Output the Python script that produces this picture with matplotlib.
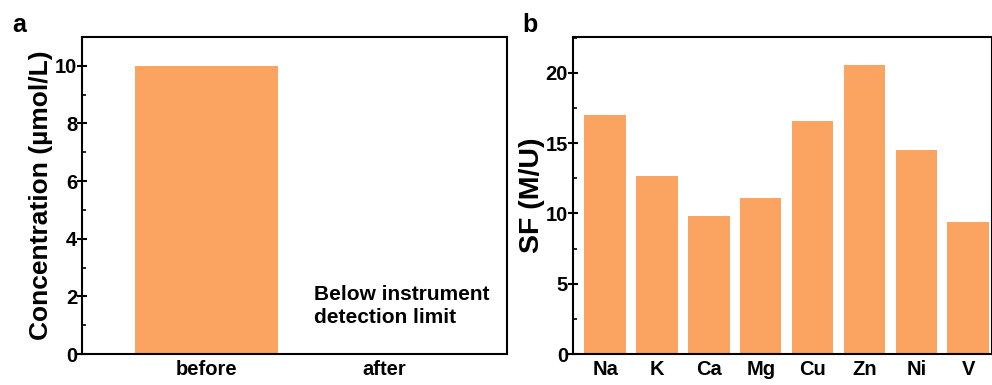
import matplotlib.pyplot as plt
from matplotlib.ticker import MultipleLocator

plt.rcParams['font.family'] = ['Liberation Sans', 'DejaVu Sans']
plt.rcParams['font.weight'] = 'bold'

# panel a data
stages = ['before', 'after']
concentration = [10.0, 0.0]

# panel b data
metals = ['Na', 'K', 'Ca', 'Mg', 'Cu', 'Zn', 'Ni', 'V']
sf_values = [17.0, 12.7, 9.85, 11.1, 16.6, 20.55, 14.55, 9.4]

bar_color = '#FBA360'

fig = plt.figure(figsize=(9.92, 3.85), dpi=100)
ax_a = fig.add_axes([0.0827, 0.0805, 0.4284, 0.8234])
ax_b = fig.add_axes([0.5776, 0.0805, 0.4224, 0.8234])


def style_axes(ax):
    for sp in ax.spines.values():
        sp.set_linewidth(1.5)
    ax.tick_params(axis='y', which='major', direction='inout', length=7, width=1.5,
                   labelsize=14.5, pad=0)
    ax.tick_params(axis='y', which='minor', direction='in', length=3, width=1.2)
    ax.tick_params(axis='x', which='both', length=0, labelsize=14.5, pad=4)
    for lbl in ax.get_xticklabels() + ax.get_yticklabels():
        lbl.set_fontweight('bold')


# Panel a
ax_a.bar(range(len(stages)), concentration, width=0.8, color=bar_color)
ax_a.set_xlim(-0.7, 1.69)
ax_a.set_ylim(0, 11)
ax_a.set_xticks(range(len(stages)))
ax_a.set_xticklabels(stages)
ax_a.yaxis.set_major_locator(MultipleLocator(2))
ax_a.yaxis.set_minor_locator(MultipleLocator(1))
ax_a.set_ylabel('Concentration (µmol/L)', fontsize=19, fontweight='bold')
ax_a.yaxis.set_label_coords(-0.068, 0.5)
ax_a.text(0.546, 0.218, 'Below instrument\ndetection limit', transform=ax_a.transAxes,
          fontsize=15, fontweight='bold', ha='left', va='top', linespacing=1.25)
style_axes(ax_a)

# Panel b
ax_b.bar(range(len(metals)), sf_values, width=0.8, color=bar_color)
ax_b.set_xlim(-0.62, 7.46)
ax_b.set_ylim(0, 22.56)
ax_b.set_xticks(range(len(metals)))
ax_b.set_xticklabels(metals)
ax_b.yaxis.set_major_locator(MultipleLocator(5))
ax_b.yaxis.set_minor_locator(MultipleLocator(2.5))
ax_b.set_ylabel('SF (M/U)', fontsize=20.5, fontweight='bold')
ax_b.yaxis.set_label_coords(-0.067, 0.5)
style_axes(ax_b)

fig.text(0.012, 0.917, 'a', fontsize=18, fontweight='bold', va='baseline')
fig.text(0.527, 0.917, 'b', fontsize=18, fontweight='bold', va='baseline')

fig.savefig('out.png', dpi=100)
